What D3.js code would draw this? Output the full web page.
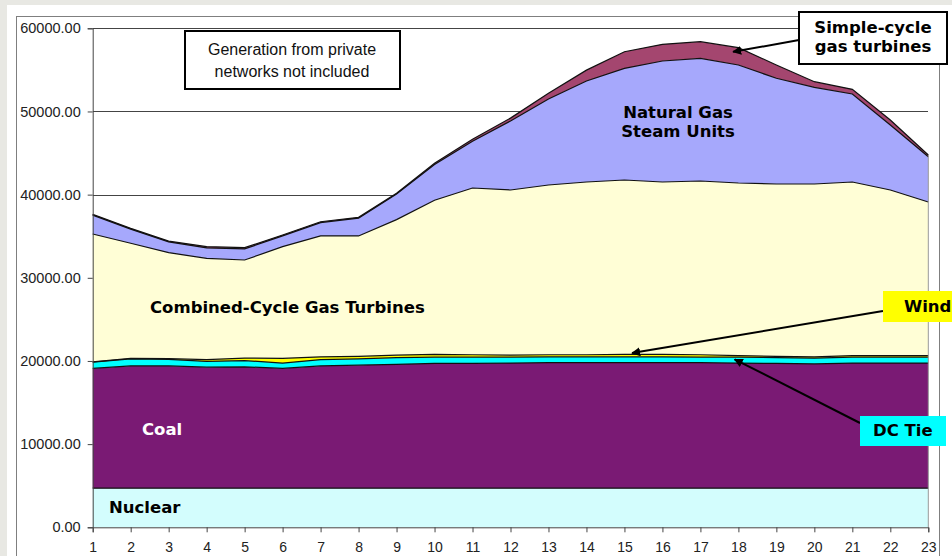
<!DOCTYPE html>
<html>
<head>
<meta charset="utf-8">
<script src="https://cdn.jsdelivr.net/npm/d3@7"></script>
<style>
  body { margin: 0; background: #e8e8e3; }
  svg { display: block; }
  .tick text { font-family: "Liberation Sans", Arial, sans-serif; fill: #222; }
  .lbl { font-family: "DejaVu Sans", Verdana, sans-serif; font-weight: bold; font-size: 16.5px; }
</style>
</head>
<body>
<svg id="chart" width="952" height="556"></svg>
<script>
// hourly generation (MW)
var hours = d3.range(1, 24);
var nuclear = [4700,4700,4700,4700,4700,4700,4700,4700,4700,4700,4700,4700,4700,4700,4700,4700,4700,4700,4700,4700,4700,4700,4700];
var coal = [14400,14700,14700,14550,14600,14400,14700,14800,14900,15000,15000,15050,15100,15100,15100,15100,15100,15050,15000,14950,15050,15050,15050];
var dcTie = [750,850,800,700,750,650,750,750,800,750,750,700,700,700,700,700,650,700,700,700,700,700,700];
var wind = [50,50,80,200,300,550,350,300,300,350,300,250,250,250,300,300,300,200,150,150,200,200,200];
var combinedCycle = [15370,13850,12740,12190,11790,13440,14530,14480,16300,18530,20050,19860,20410,20770,20960,20720,20890,20750,20730,20780,20870,19910,18470];
var steamUnits = [2260,1700,1300,1250,1330,1300,1610,2140,3080,4300,5620,8290,10340,12150,13420,14550,14750,14190,12710,11620,10580,7810,5440];
var simpleCycle = [100,100,100,150,150,100,100,100,100,150,250,350,700,1300,2000,2000,2000,2080,1600,680,560,600,200];
var yTicks = [0,10000,20000,30000,40000,50000,60000];

var keys = ["nuclear","coal","dcTie","wind","combinedCycle","steamUnits","simpleCycle"];
var colors = {
  nuclear: "#d3fdfd", coal: "#7a1a74", dcTie: "#00ffff", wind: "#ffff00",
  combinedCycle: "#fffed6", steamUnits: "#a6a8fc", simpleCycle: "#a4466f"
};

var table = hours.map(function(h, i) {
  return { hour: h, nuclear: nuclear[i], coal: coal[i], dcTie: dcTie[i], wind: wind[i],
    combinedCycle: combinedCycle[i], steamUnits: steamUnits[i], simpleCycle: simpleCycle[i] };
});

var svg = d3.select("#chart");

// page frame
svg.append("rect").attr("x", 7).attr("y", 5).attr("width", 945).attr("height", 551).attr("fill", "#fff");
svg.append("rect").attr("x", 16.5).attr("y", 16.5).attr("width", 923).attr("height", 600)
  .attr("fill", "none").attr("stroke", "#7f7f7f");

var x = d3.scaleLinear().domain([1, 23]).range([92.7, 928.3]);
var y = d3.scaleLinear().domain([0, 60000]).range([527.3, 28.3]);

// gridlines
svg.append("g")
  .attr("transform", "translate(" + x(1) + ",0)")
  .call(d3.axisLeft(y).tickValues(yTicks.slice(1)).tickSize(-(x(23) - x(1))).tickFormat(""))
  .call(function(g) { g.select(".domain").remove(); })
  .call(function(g) { g.selectAll("line").attr("stroke", "#000").attr("shape-rendering", "crispEdges"); });

var series = d3.stack().keys(keys)(table);

var area = d3.area()
  .x(function(d) { return x(d.data.hour); })
  .y0(function(d) { return y(d[0]); })
  .y1(function(d) { return y(d[1]); });

var topLine = d3.line()
  .x(function(d) { return x(d.data.hour); })
  .y(function(d) { return y(d[1]); });

svg.append("g").selectAll("path")
  .data(series)
  .enter().append("path")
  .attr("d", area)
  .attr("fill", function(d) { return colors[d.key]; });

svg.append("g").selectAll("path")
  .data(series)
  .enter().append("path")
  .attr("d", topLine)
  .attr("fill", "none")
  .attr("stroke", "#111")
  .attr("stroke-width", 1.2);

// right edge of the areas
var last = series[series.length - 1][22];
svg.append("line")
  .attr("x1", x(23)).attr("x2", x(23))
  .attr("y1", y(last[1])).attr("y2", y(0))
  .attr("stroke", "#999");

// axes
var yAxis = svg.append("g")
  .attr("transform", "translate(" + x(1) + ",0)")
  .call(d3.axisLeft(y).tickValues(yTicks).tickSize(5).tickPadding(7).tickFormat(d3.format(".2f")));
yAxis.selectAll("text").style("font-size", "14.5px");

var xAxis = svg.append("g")
  .attr("transform", "translate(0," + y(0) + ")")
  .call(d3.axisBottom(x).tickValues(hours).tickSize(5).tickPadding(10).tickFormat(d3.format("d")));
xAxis.selectAll("text").style("font-size", "14px");
svg.selectAll(".domain, .tick line").attr("stroke", "#444");

// labels inside areas
svg.append("text").attr("class", "lbl").attr("x", 109).attr("y", 513).text("Nuclear");
svg.append("text").attr("class", "lbl").attr("x", 142).attr("y", 435).attr("fill", "#fff").text("Coal");
svg.append("text").attr("class", "lbl").attr("x", 150).attr("y", 313).text("Combined-Cycle Gas Turbines");
svg.append("text").attr("class", "lbl").attr("x", 678).attr("y", 118).attr("text-anchor", "middle").text("Natural Gas");
svg.append("text").attr("class", "lbl").attr("x", 678).attr("y", 137).attr("text-anchor", "middle").text("Steam Units");

// note box
svg.append("rect").attr("x", 185).attr("y", 31).attr("width", 215).attr("height", 58)
  .attr("fill", "#fff").attr("stroke", "#000").attr("stroke-width", 2);
var note = svg.append("text")
  .attr("text-anchor", "middle")
  .style("font-family", "'Liberation Sans', Arial, sans-serif")
  .style("font-size", "16px").attr("fill", "#111");
note.append("tspan").attr("x", 292).attr("y", 55).text("Generation from private");
note.append("tspan").attr("x", 292).attr("y", 77).text("networks not included");

// arrows
svg.append("defs").append("marker")
  .attr("id", "head").attr("viewBox", "0 0 10 10")
  .attr("refX", 9).attr("refY", 5)
  .attr("markerWidth", 9).attr("markerHeight", 9)
  .attr("markerUnits", "userSpaceOnUse")
  .attr("orient", "auto")
  .append("path").attr("d", "M0,0L10,5L0,10Z").attr("fill", "#000");

function arrow(x1, y1, x2, y2) {
  svg.append("line")
    .attr("x1", x1).attr("y1", y1).attr("x2", x2).attr("y2", y2)
    .attr("stroke", "#000").attr("stroke-width", 2)
    .attr("marker-end", "url(#head)");
}
arrow(799, 40, x(17.86), y(57170));
arrow(883, 311, x(15.2), y(20950));
arrow(860, 423, x(17.9), y(20200));

// callout boxes
svg.append("rect").attr("x", 799).attr("y", 12).attr("width", 148).attr("height", 52)
  .attr("fill", "#fff").attr("stroke", "#000").attr("stroke-width", 2);
svg.append("text").attr("class", "lbl").attr("x", 873).attr("y", 33).attr("text-anchor", "middle").text("Simple-cycle");
svg.append("text").attr("class", "lbl").attr("x", 873).attr("y", 52).attr("text-anchor", "middle").text("gas turbines");

svg.append("rect").attr("x", 883).attr("y", 291).attr("width", 80).attr("height", 31).attr("fill", "#ffff00");
svg.append("text").attr("class", "lbl").attr("x", 904).attr("y", 312).text("Wind");

svg.append("rect").attr("x", 860).attr("y", 416).attr("width", 86).attr("height", 30).attr("fill", "#00ffff");
svg.append("text").attr("class", "lbl").attr("x", 873).attr("y", 436).text("DC Tie");
</script>
</body>
</html>
